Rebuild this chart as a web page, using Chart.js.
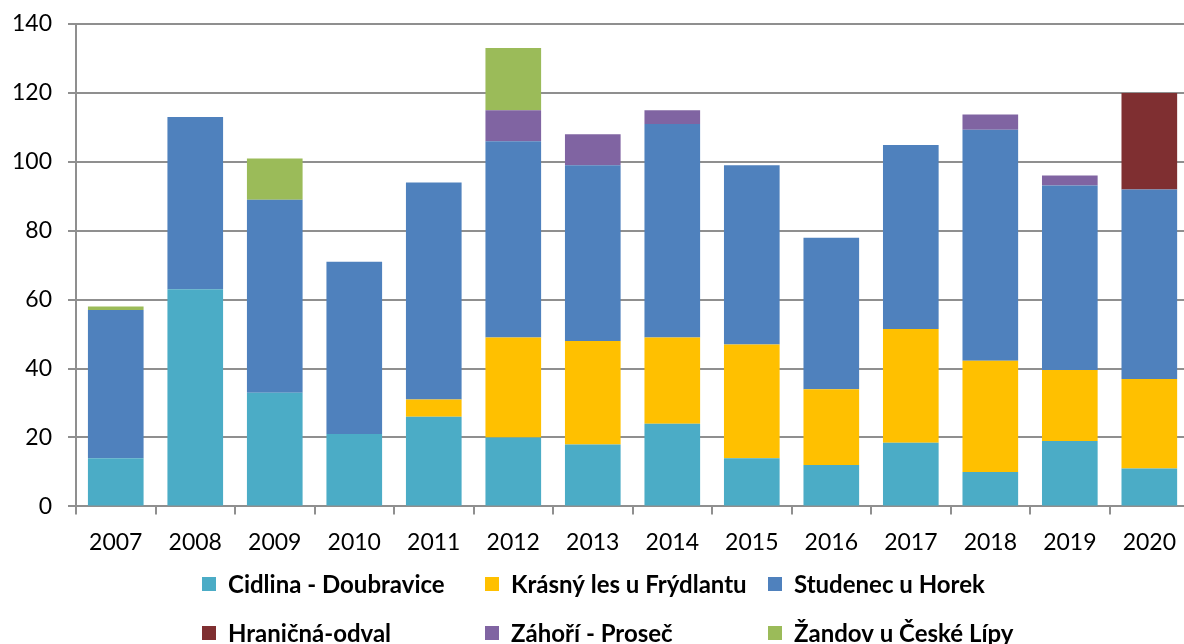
<!DOCTYPE html>
<html>
<head>
<meta charset="utf-8">
<script src="https://cdn.jsdelivr.net/npm/chart.js@4"></script>
<style>
  html, body { margin: 0; padding: 0; background: #fff; overflow: hidden; }
  canvas { display: block; }
</style>
</head>
<body>
<canvas id="chart" width="1190" height="644"></canvas>
<script>
const years = ['2007', '2008', '2009', '2010', '2011', '2012', '2013', '2014', '2015', '2016', '2017', '2018', '2019', '2020'];

const cidlina   = [14, 63, 33, 21, 26, 20, 18, 24, 14, 12, 18.5, 10, 19, 11];
const krasnyLes = [0, 0, 0, 0, 5, 29, 30, 25, 33, 22, 33, 32.3, 20.6, 26];
const studenec  = [43, 50, 56, 50, 63, 57, 51, 62, 52, 44, 53.4, 67, 53.5, 55];
const hranicna  = [0, 0, 0, 0, 0, 0, 0, 0, 0, 0, 0, 0, 0, 28];
const zahori    = [0, 0, 0, 0, 0, 9, 9, 4, 0, 0, 0, 4.4, 2.9, 0];
const zandov    = [1, 0, 12, 0, 0, 18, 0, 0, 0, 0, 0, 0, 0, 0];

const yTicks = [0, 20, 40, 60, 80, 100, 120, 140];

const fontFamily = 'Lato, "Open Sans", sans-serif';
const gridColor = '#8f8f8f';

// Excel-like legend: fixed 3-column grid under the axis
const gridLegend = {
  id: 'gridLegend',
  afterDraw(chart) {
    const ctx = chart.ctx;
    const sets = chart.data.datasets;
    ctx.save();
    ctx.font = 'bold 24px ' + fontFamily;
    ctx.textBaseline = 'middle';
    ctx.textAlign = 'left';
    sets.forEach((ds, i) => {
      const col = i % 3;
      const row = Math.floor(i / 3);
      const x = 202 + col * 283;
      const y = 584 + row * 49;
      ctx.fillStyle = ds.backgroundColor;
      ctx.fillRect(x, y - 7, 14, 14);
      ctx.fillStyle = '#000';
      ctx.fillText(ds.label, x + 26, y + 1);
    });
    ctx.restore();
  }
};

const data = {
  labels: years,
  datasets: [
    { label: 'Cidlina - Doubravice', data: cidlina, backgroundColor: '#4BACC6' },
    { label: 'Krásný les u Frýdlantu', data: krasnyLes, backgroundColor: '#FFC000' },
    { label: 'Studenec u Horek', data: studenec, backgroundColor: '#4F81BD' },
    { label: 'Hraničná-odval', data: hranicna, backgroundColor: '#7F2F31' },
    { label: 'Záhoří - Proseč', data: zahori, backgroundColor: '#8064A2' },
    { label: 'Žandov u České Lípy', data: zandov, backgroundColor: '#9BBB59' }
  ]
};

const options = {
  responsive: false,
  animation: false,
  layout: {
    padding: { left: 0, right: 0, top: 24, bottom: 74 }
  },
  datasets: {
    bar: {
      barPercentage: 0.7,
      categoryPercentage: 1,
      borderWidth: 0
    }
  },
  plugins: {
    legend: { display: false },
    tooltip: { enabled: false }
  },
  scales: {
    x: {
      stacked: true,
      grid: {
        drawOnChartArea: false,
        drawTicks: true,
        tickLength: 8,
        color: gridColor,
        lineWidth: 2
      },
      border: { display: true, color: gridColor, width: 2 },
      ticks: {
        color: '#000',
        padding: 14,
        font: { family: fontFamily, size: 23 }
      }
    },
    y: {
      stacked: true,
      min: 0,
      max: 140,
      afterBuildTicks: (axis) => {
        axis.ticks = yTicks.map((v) => ({ value: v }));
      },
      afterFit: (axis) => {
        axis.width = 76;
        axis.paddingTop = 0;
      },
      grid: {
        color: gridColor,
        lineWidth: 2,
        tickLength: 8
      },
      border: { display: true, color: gridColor, width: 2 },
      ticks: {
        color: '#000',
        padding: 16,
        font: { family: fontFamily, size: 23 }
      }
    }
  }
};

new Chart(document.getElementById('chart'), {
  type: 'bar',
  data,
  options,
  plugins: [gridLegend]
});
</script>
</body>
</html>
